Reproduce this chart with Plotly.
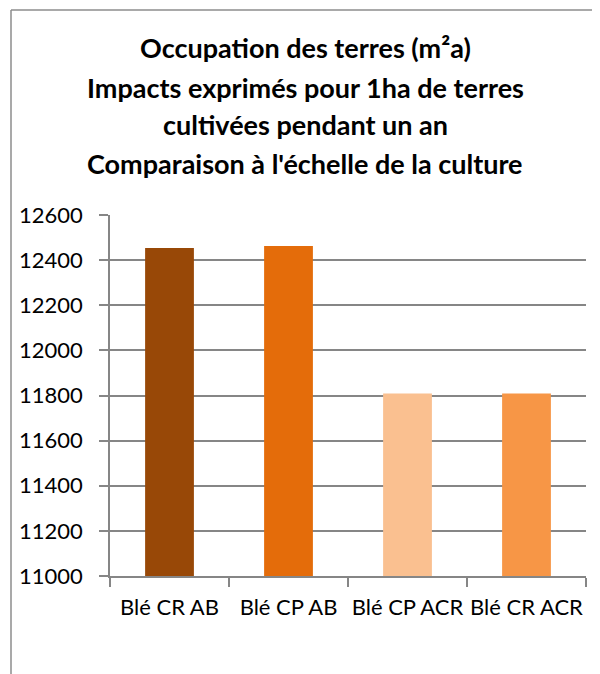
import plotly.graph_objects as go

categories = ["Blé CR AB", "Blé CP AB", "Blé CP ACR", "Blé CR ACR"]
values = [12454, 12463, 11809, 11809]
colors = ["#984807", "#E46C0A", "#FAC090", "#F79646"]
title_lines = [
    "Occupation des terres (m²a)",
    "Impacts exprimés pour 1ha de terres",
    "cultivées pendant un an",
    "Comparaison à l'échelle de la culture",
]

W, H = 600, 674
OFF = 8  # page body margin
pw, ph = 476, 361
L = 110 - OFF
T = 215 - OFF
R = W - L - pw
B = H - T - ph

def px_x(p):
    return (p - OFF - L) / pw

def px_y(p):
    return 1 + (T + OFF - p) / ph

fig = go.Figure()
fig.add_trace(go.Bar(
    x=categories, y=values, marker=dict(color=colors, line=dict(width=0)),
    width=0.41, showlegend=False,
))

font_family = "Lato, 'Open Sans', sans-serif"
annotations = []
for i, (line, cy) in enumerate(zip(title_lines, [47, 87, 125, 163])):
    annotations.append(dict(
        text=line, xref="paper", yref="paper", x=px_x(305), y=px_y(cy),
        xanchor="center", yanchor="middle", showarrow=False,
        font=dict(family=font_family, size=27, color="#000000", weight="bold"),
    ))

border = "#8c8c8c"
shapes = [
    dict(type="line", xref="paper", yref="paper",
         x0=px_x(11), x1=px_x(11), y0=px_y(10), y1=px_y(700),
         line=dict(color=border, width=1.5)),
    dict(type="line", xref="paper", yref="paper",
         x0=px_x(11), x1=px_x(620), y0=px_y(10), y1=px_y(10),
         line=dict(color=border, width=1.5)),
]

fig.update_layout(
    width=W, height=H,
    margin=dict(l=L, r=R, t=T, b=B, autoexpand=False),
    paper_bgcolor="white", plot_bgcolor="white",
    annotations=annotations, shapes=shapes,
    font=dict(family=font_family, size=22, color="#000000"),
)
fig.update_xaxes(
    type="category", showline=True, linecolor="#868686", linewidth=1.5,
    ticks="outside", tickson="boundaries", ticklen=9, tickcolor="#868686",
    tickwidth=1.5, showgrid=False, ticklabelstandoff=11, tickangle=0,
    automargin=False,
    tickfont=dict(family=font_family, size=22, color="#000000"),
)
fig.update_yaxes(
    range=[11000, 12600], dtick=200, tick0=11000, tickformat="d",
    showline=True, linecolor="#868686", linewidth=1.5,
    ticks="outside", ticklen=9, tickcolor="#868686", tickwidth=1.5,
    showgrid=True, gridcolor="#868686", gridwidth=1.5,
    zeroline=False, ticklabelstandoff=12, automargin=False,
    tickfont=dict(family=font_family, size=22, color="#000000"),
)

fig.write_html("out.html")
